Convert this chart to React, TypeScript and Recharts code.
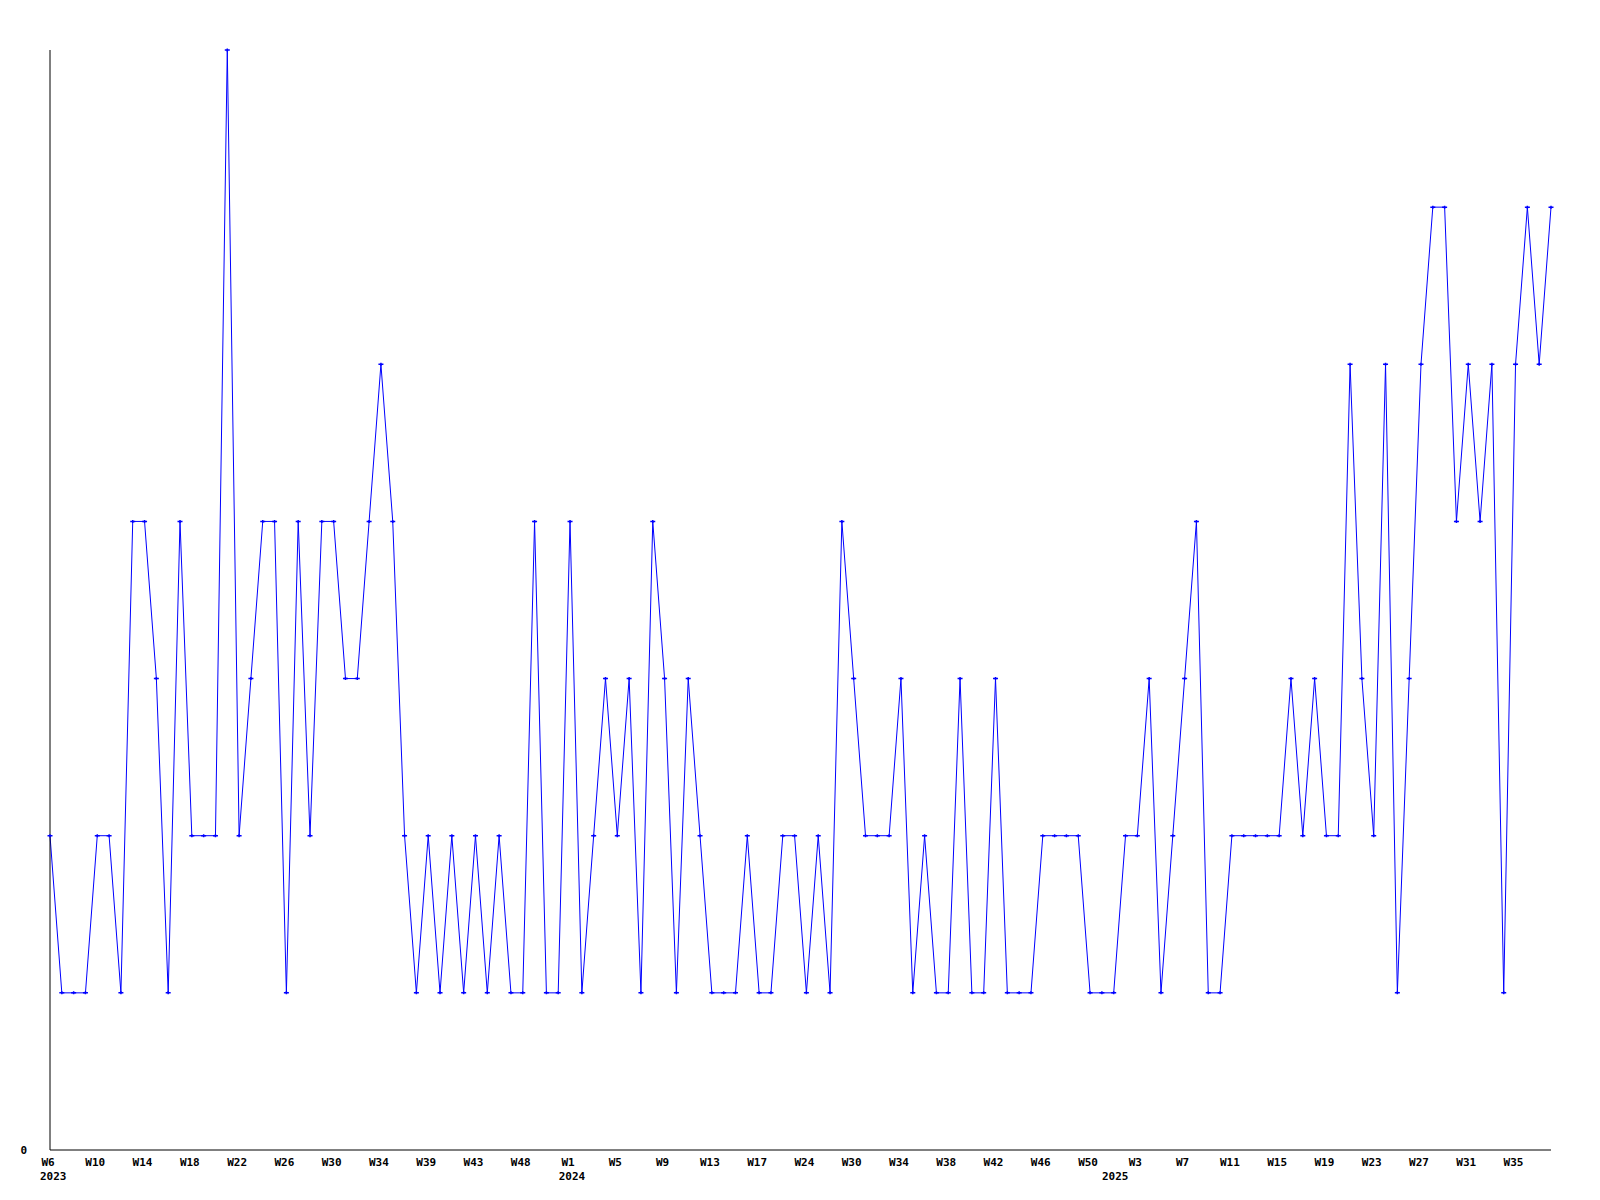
import { LineChart, Line, XAxis, YAxis } from "recharts";

// ISO weeks present in the data, per year
const weeks2023 = [
  6, 7, 8, 9, 10, 11, 12, 13, 14, 15, 16, 17, 18, 19, 20, 21, 22, 23, 24, 25,
  26, 27, 28, 29, 30, 31, 32, 33, 34, 35, 36, 37, 39, 40, 41, 42, 43, 44, 45,
  46, 48, 49, 50, 51,
];
const weeks2024 = [
  1, 2, 3, 4, 5, 6, 7, 8, 9, 10, 11, 12, 13, 14, 15, 16, 17, 19, 21, 22, 24,
  25, 27, 28, 30, 31, 32, 33, 34, 35, 36, 37, 38, 39, 40, 41, 42, 43, 44, 45,
  46, 47, 48, 49, 50, 51,
];
const weeks2025 = [
  1, 2, 3, 4, 5, 6, 7, 8, 9, 10, 11, 12, 13, 14, 15, 16, 17, 18, 19, 20, 21,
  22, 23, 24, 25, 26, 27, 28, 29, 30, 31, 32, 33, 34, 35, 36, 37, 38,
];

const counts = [
  2, 1, 1, 1, 2, 2, 1, 4, 4, 3, 1, 4, 2, 2, 2, 7, 2, 3, 4, 4,
  1, 4, 2, 4, 4, 3, 3, 4, 5, 4, 2, 1, 2, 1, 2, 1, 2, 1, 2, 1,
  1, 4, 1, 1, 4, 1, 2, 3, 2, 3, 1, 4, 3, 1, 3, 2, 1, 1, 1, 2,
  1, 1, 2, 2, 1, 2, 1, 4, 3, 2, 2, 2, 3, 1, 2, 1, 1, 3, 1, 1,
  3, 1, 1, 1, 2, 2, 2, 2, 1, 1, 1, 2, 2, 3, 1, 2, 3, 4, 1, 1,
  2, 2, 2, 2, 2, 3, 2, 3, 2, 2, 5, 3, 2, 5, 1, 3, 5, 6, 6, 4,
  5, 4, 5, 1, 5, 6, 5, 6,
];

const categories = [
  ...weeks2023.map((w) => ({ year: 2023, week: w })),
  ...weeks2024.map((w) => ({ year: 2024, week: w })),
  ...weeks2025.map((w) => ({ year: 2025, week: w })),
];

const data = categories.map((c, i) => ({
  i,
  label: `W${c.week}`,
  year: c.year,
  value: counts[i],
}));

// a label every 4th week
const tickIdx = data.filter((d) => d.i % 4 === 0).map((d) => d.i);
// first index of each year, where the year is written
const yearStart: Record<number, number> = {};
data.forEach((d) => {
  if (yearStart[d.year] === undefined) yearStart[d.year] = d.i;
});

const font = '"DejaVu Sans Mono", monospace';
const blue = "#0000ff";

function WeekTick(props: any) {
  const { x, y, payload } = props;
  const d = data[payload.value];
  if (!d) return null;
  return (
    <text
      x={x - 2}
      y={y}
      dy="0.71em"
      textAnchor="middle"
      fontFamily={font}
      fontWeight="bold"
      fontSize={11}
      fill="#000"
    >
      {d.label}
    </text>
  );
}

function PlusDot(props: any) {
  const { cx, cy } = props;
  if (cx == null || cy == null) return null;
  return (
    <path
      key={`d${props.index}`}
      d={`M${cx - 2.5},${cy}H${cx + 2.5}M${cx},${cy - 1.5}V${cy + 1.5}`}
      stroke={blue}
      strokeWidth={1.5}
      fill="none"
    />
  );
}

export default function App() {
  const left = 50;
  const right = 1550;
  const step = (right - left) / (data.length - 1);
  return (
    <div style={{ position: "absolute", left: 0, top: 0, background: "#fff" }}>
      <LineChart
        width={1600}
        height={1200}
        data={data}
        margin={{ top: 50, right: 49, left: 0, bottom: 0 }}
      >
        <XAxis
          dataKey="i"
          type="number"
          domain={[0, data.length - 1]}
          ticks={tickIdx}
          interval={0}
          tickLine={false}
          axisLine={{ stroke: "#000" }}
          tick={<WeekTick />}
          height={50}
        />
        <YAxis
          domain={[0, 7]}
          ticks={[0]}
          tickLine={false}
          tickMargin={17}
          axisLine={{ stroke: "#000" }}
          width={50}
          tick={{
            fontFamily: font,
            fontWeight: "bold",
            fontSize: 11,
            fill: "#000",
          }}
        />
        <Line
          dataKey="value"
          stroke={blue}
          strokeWidth={1}
          dot={<PlusDot />}
          activeDot={false}
          isAnimationActive={false}
        />
      </LineChart>
      {Object.entries(yearStart).map(([yr, idx]) => (
        <div
          key={yr}
          style={{
            position: "absolute",
            left: Math.max(40, left + idx * step + 2.5 - 13.5),
            top: 1170,
            fontFamily: font,
            fontWeight: "bold",
            fontSize: 11,
            lineHeight: "14px",
            color: "#000",
          }}
        >
          {yr}
        </div>
      ))}
    </div>
  );
}
